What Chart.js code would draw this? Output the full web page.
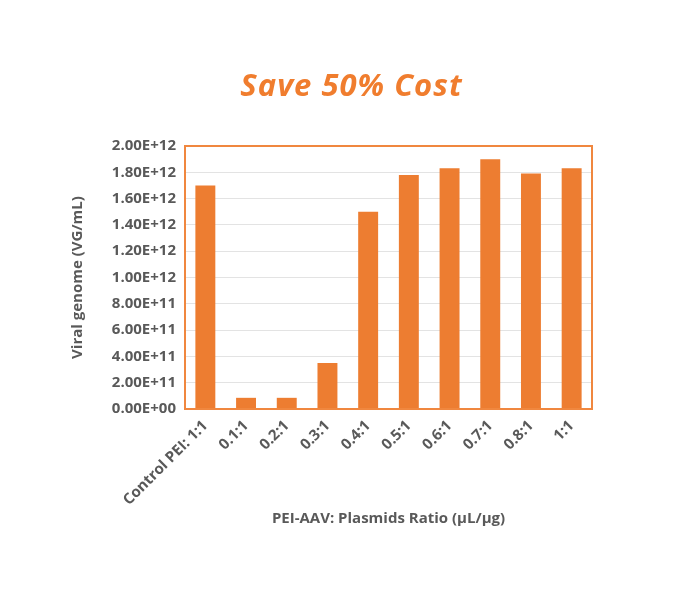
<!DOCTYPE html>
<html>
<head>
<meta charset="utf-8">
<script src="https://cdn.jsdelivr.net/npm/chart.js@4.4.1/dist/chart.umd.min.js"></script>
<style>
  html, body { margin: 0; padding: 0; background: #fff; }
  #wrap { position: relative; width: 678px; height: 601px; }
  #heading {
    position: absolute; left: 0; width: 703px; top: 63px; text-align: center;
    font-family: "Open Sans", sans-serif; font-weight: 700; font-style: italic;
    font-size: 31px; line-height: 42px; letter-spacing: 1px; color: #F07D2E;
  }
</style>
</head>
<body>
<div id="wrap">
  <div id="heading">Save 50% Cost</div>
  <canvas id="ratioChart" width="678" height="601"></canvas>
</div>
<script>
var categories = ["Control PEI: 1:1", "0.1:1", "0.2:1", "0.3:1", "0.4:1", "0.5:1", "0.6:1", "0.7:1", "0.8:1", "1:1"];
var genomeValues = [1.70e12, 0.085e12, 0.085e12, 0.35e12, 1.50e12, 1.78e12, 1.83e12, 1.90e12, 1.79e12, 1.83e12];
var yTickLabels = ["0.00E+00", "2.00E+11", "4.00E+11", "6.00E+11", "8.00E+11", "1.00E+12",
                   "1.20E+12", "1.40E+12", "1.60E+12", "1.80E+12", "2.00E+12"];

var textGray = "#595959";
var barOrange = "#ED7D31";
var labelFont = { family: "Open Sans", size: 15, weight: "bold" };

// orange frame around the plot area
var plotFrame = {
    id: "plotFrame",
    afterDatasetsDraw: function(chart) {
        var a = chart.chartArea, ctx = chart.ctx;
        ctx.save();
        ctx.strokeStyle = "#F0873F";
        ctx.lineWidth = 2;
        ctx.strokeRect(a.left, a.top, a.right - a.left, a.bottom - a.top);
        ctx.restore();
    }
};

new Chart("ratioChart", {
    type: "bar",
    data: {
        labels: categories,
        datasets: [{
            data: genomeValues,
            backgroundColor: barOrange,
            barPercentage: 0.49,
            categoryPercentage: 1.0
        }]
    },
    options: {
        responsive: false,
        animation: false,
        layout: { padding: { left: 69, right: 86, top: 146, bottom: 73 } },
        plugins: {
            legend: { display: false },
            tooltip: { enabled: false }
        },
        scales: {
            x: {
                grid: { display: false, drawTicks: false },
                border: { display: false },
                ticks: {
                    color: textGray,
                    font: labelFont,
                    minRotation: 45, maxRotation: 45,
                    padding: 8
                },
                title: {
                    display: true,
                    text: "PEI-AAV: Plasmids Ratio (µL/µg)",
                    color: textGray,
                    font: labelFont,
                    padding: 0
                },
                afterFit: function(scale) { scale.height = 119; }
            },
            y: {
                min: 0, max: 2e12,
                grid: { color: "#E3E3E3", lineWidth: 1, drawTicks: false },
                border: { display: false },
                ticks: {
                    stepSize: 2e11,
                    color: textGray,
                    font: labelFont,
                    padding: 9,
                    callback: function(v, i) { return yTickLabels[i]; }
                },
                title: {
                    display: true,
                    text: "Viral genome (VG/mL)",
                    color: textGray,
                    font: labelFont,
                    padding: 0
                },
                afterFit: function(scale) { scale.width = 116; }
            }
        }
    },
    plugins: [plotFrame]
});
</script>
</body>
</html>
